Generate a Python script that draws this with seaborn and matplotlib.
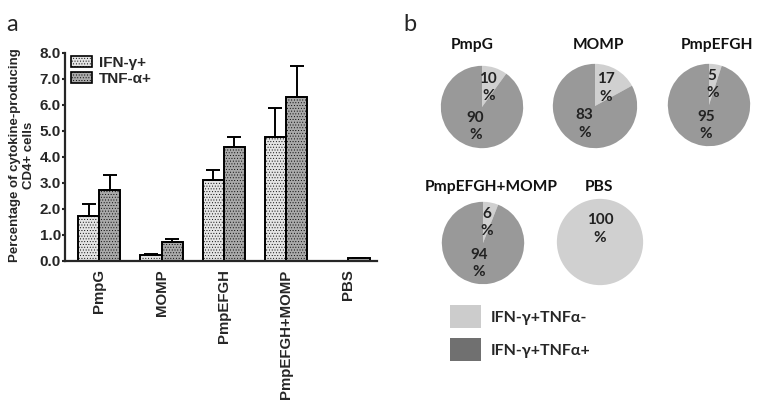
import numpy as np
import pandas as pd
import matplotlib
matplotlib.use("Agg")
import matplotlib.pyplot as plt
import seaborn as sns
from matplotlib.patches import Patch

# --- data: panel a ---
groups = ["PmpG", "MOMP", "PmpEFGH", "PmpEFGH+MOMP", "PBS"]
ifn_mean = [1.75, 0.22, 3.10, 4.78, 0.0]
ifn_err = [0.45, 0.05, 0.40, 1.10, 0.0]
tnf_mean = [2.72, 0.72, 4.37, 6.32, 0.12]
tnf_err = [0.60, 0.13, 0.40, 1.18, 0.0]
series = ["IFN-γ+", "TNF-α+"]

# --- data: panel b ---
pie_names = ["PmpG", "MOMP", "PmpEFGH", "PmpEFGH+MOMP", "PBS"]
pct_neg = [10, 17, 5, 6, 100]   # IFN-γ+TNFα-
pct_pos = [90, 83, 95, 94, 0]   # IFN-γ+TNFα+
pie_legend = ["IFN-γ+TNFα-", "IFN-γ+TNFα+"]

sns.set_style("ticks")
plt.rcParams["font.family"] = ["Liberation Sans", "DejaVu Sans"]
plt.rcParams["hatch.linewidth"] = 0.35

fig = plt.figure(figsize=(7.62, 4.0), dpi=100)

# ---------- panel a ----------
ax = fig.add_axes([65 / 762, 1 - 261 / 400, 312 / 762, 208 / 400])
df = pd.DataFrame({
    "Groupe": groups * 2,
    "Serie": [series[0]] * len(groups) + [series[1]] * len(groups),
    "Valeur": ifn_mean + tnf_mean,
    "Err": ifn_err + tnf_err,
})
bar_cols = {series[0]: "#e4e4e4", series[1]: "#a9a9a9"}
sns.barplot(data=df, x="Groupe", y="Valeur", hue="Serie", palette=bar_cols,
            errorbar=None, width=0.68, edgecolor="black", linewidth=1.4,
            ax=ax, legend=False)

for cont, s in zip(ax.containers, series):
    sub = df[df["Serie"] == s]
    xs = [p.get_x() + p.get_width() / 2 for p in cont.patches]
    for p in cont.patches:
        p.set_hatch("......")
    ax.errorbar(xs, sub["Valeur"], yerr=[np.zeros(len(sub)), sub["Err"]],
                fmt="none", ecolor="black", elinewidth=1.4, capsize=5, capthick=1.4)

ax.set_ylim(0, 8.0)
ax.set_xlim(-0.55, 4.46)
ax.set_yticks(np.arange(0, 8.5, 1.0))
ax.set_yticklabels([f"{v:.1f}" for v in np.arange(0, 8.5, 1.0)],
                   fontsize=11, fontweight="bold")
ax.set_xticks(range(len(groups)))
ax.set_xticklabels(groups, rotation=90, fontsize=10.8, fontweight="bold")
ax.tick_params(axis="x", length=0, pad=6)
ax.tick_params(axis="y", width=1.5, length=2, pad=1)
ax.set_xlabel("")
ax.set_ylabel("Percentage of cytokine-producing\nCD4+ cells", fontsize=9.5,
              fontweight="bold")
ax.yaxis.set_label_coords(-0.097, 0.51)
for sp in ["left", "bottom"]:
    ax.spines[sp].set_linewidth(1.6)
sns.despine(ax=ax)

handles = [Patch(facecolor=bar_cols[s], edgecolor="black", hatch="......",
                 linewidth=1.2) for s in series]
ax.legend(handles, series, loc="upper left", bbox_to_anchor=(-0.01, 1.03),
          frameon=False, prop={"weight": "bold", "size": 11},
          handlelength=1.4, handleheight=0.75, handletextpad=0.4, labelspacing=0.15,
          borderaxespad=0.2)

fig.text(0.008, 0.965, "a", fontsize=17, family=["Lato", "DejaVu Sans"], va="top")

# ---------- panel b ----------
light, dark = "#d0d0d0", "#999999"
centers = [(482, 107), (595, 106), (709, 105), (483, 243), (600, 242)]
radii = [42, 43, 42, 42, 44]
title_pos = [(472, 45), (598, 45), (717, 45), (491, 187), (599, 187)]
pie_font = ["Lato", "DejaVu Sans"]

for name, neg, pos, (cx, cy), r, (tx, ty) in zip(pie_names, pct_neg, pct_pos,
                                                 centers, radii, title_pos):
    pax = fig.add_axes([(cx - r) / 762, 1 - (cy + r) / 400, 2 * r / 762, 2 * r / 400])
    vals = [v for v in (neg, pos) if v > 0]
    cols = [c for v, c in zip((neg, pos), (light, dark)) if v > 0]
    start = 90 if len(vals) > 1 else 270
    dist = 0.5 if len(vals) > 1 else 0.3
    pax.pie(vals, colors=cols, startangle=start, counterclock=False,
            autopct=lambda p: f"{p:.0f}\n%", pctdistance=dist,
            wedgeprops={"linewidth": 0},
            textprops={"fontsize": 11, "fontweight": "bold",
                       "family": pie_font, "color": "#222222",
                       "linespacing": 1.3})
    pax.set_xlim(-1.02, 1.02)
    pax.set_ylim(-1.02, 1.02)
    pax.set_aspect("equal")
    pax.axis("off")
    fig.text(tx / 762, 1 - ty / 400, name, ha="center", va="center", fontsize=11.2,
             fontweight="bold", family=pie_font, color="#111111")

fig.text(403 / 762, 0.965, "b", fontsize=17, family=["Lato", "DejaVu Sans"], va="top")

lax = fig.add_axes([440 / 762, 1 - 375 / 400, 180 / 762, 80 / 400])
lax.axis("off")
lh = [Patch(facecolor="#cccccc", edgecolor="none"),
      Patch(facecolor="#707070", edgecolor="none")]
lax.legend(lh, pie_legend, loc="upper left", frameon=False,
           prop={"family": pie_font, "weight": "bold", "size": 11.5},
           handlelength=1.95, handleheight=1.9, handletextpad=0.6, labelspacing=0.6,
           borderaxespad=0.2)

fig.savefig("out.png", dpi=100)
